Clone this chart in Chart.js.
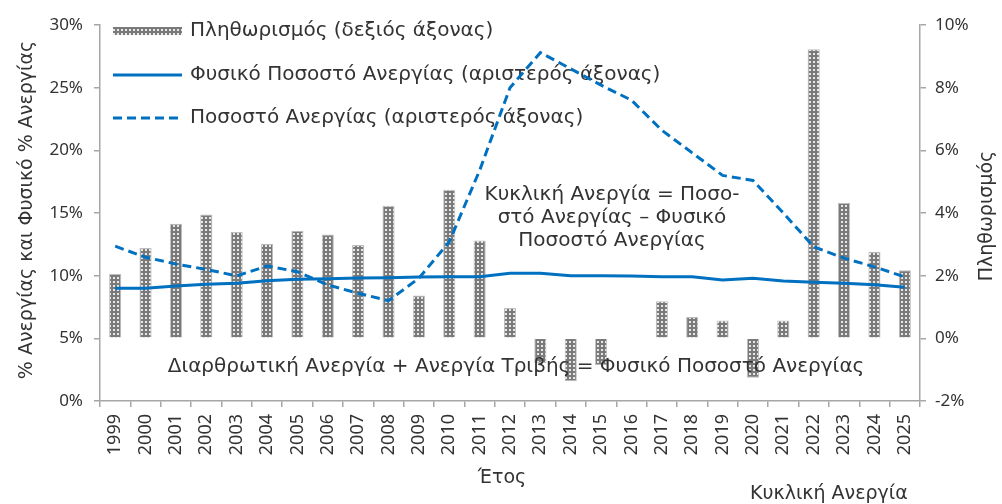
<!DOCTYPE html>
<html>
<head>
<meta charset="utf-8">
<script src="https://cdn.jsdelivr.net/npm/chart.js@4"></script>
<style>
  html, body { margin: 0; padding: 0; background: #fff; }
  #wrap { width: 1002px; height: 504px; position: relative; }
</style>
</head>
<body>
<div id="wrap"><canvas id="myChart" width="1002" height="504"></canvas></div>
<script>
// data
var years = ["1999","2000","2001","2002","2003","2004","2005","2006","2007","2008","2009","2010","2011","2012",
             "2013","2014","2015","2016","2017","2018","2019","2020","2021","2022","2023","2024","2025"];
var inflation = [2.05, 2.88, 3.66, 3.95, 3.39, 3.02, 3.43, 3.31, 2.98, 4.23, 1.37, 4.74, 3.12, 0.97,
                 -0.79, -1.37, -0.85, 0.0, 1.18, 0.68, 0.57, -1.26, 0.57, 9.23, 4.32, 2.76, 2.17];
var naturalRate = [9.0, 9.0, 9.18, 9.31, 9.39, 9.6, 9.71, 9.76, 9.82, 9.84, 9.9, 9.92, 9.92, 10.19,
                   10.19, 10.0, 10.0, 9.98, 9.92, 9.92, 9.66, 9.79, 9.58, 9.47, 9.39, 9.28, 9.07];
var unemployment = [12.35, 11.47, 10.93, 10.5, 9.98, 10.77, 10.32, 9.26, 8.6, 8.0, 9.8, 12.7, 18.4, 25.0,
                    27.8, 26.5, 25.2, 24.0, 21.6, 19.8, 18.0, 17.6, 15.0, 12.3, 11.4, 10.7, 9.9];
var leftTicks = [0, 5, 10, 15, 20, 25, 30];
var rightTicks = [-2, 0, 2, 4, 6, 8, 10];

var FONT = "'DejaVu Sans', sans-serif";
var TICKFONT = "'Noto Sans', sans-serif";
var TXT = "#333333";
var BLUE = "#0070C0";
var AXIS = "#A6A6A6";

var canvas = document.getElementById("myChart");
var ctx0 = canvas.getContext("2d");

// gray dotted fill like the original bars
var tile = document.createElement("canvas");
tile.width = 4; tile.height = 4;
var tg = tile.getContext("2d");
tg.fillStyle = "#7a7a7a";
tg.fillRect(0, 0, 4, 4);
tg.fillStyle = "#e8e8e8";
tg.fillRect(1, 1, 2, 2);
var barPattern = ctx0.createPattern(tile, "repeat");

var legendPlugin = {
    id: "legendAndNotes",
    beforeDatasetsDraw: function (chart) {
        var ctx = chart.ctx;
        ctx.save();
        ctx.font = "20px " + FONT;
        ctx.textBaseline = "middle";
        ctx.textAlign = "left";
        // bar symbol
        ctx.fillStyle = barPattern;
        ctx.fillRect(113, 27, 69, 8);
        ctx.fillStyle = TXT;
        ctx.fillText("Πληθωρισμός (δεξιός άξονας)", 190, 31);
        // solid line symbol
        ctx.strokeStyle = BLUE;
        ctx.lineWidth = 3;
        ctx.beginPath(); ctx.moveTo(113, 75); ctx.lineTo(182, 75); ctx.stroke();
        ctx.fillText("Φυσικό Ποσοστό Ανεργίας (αριστερός άξονας)", 190, 75);
        // dashed
        ctx.setLineDash([9, 5]);
        ctx.beginPath(); ctx.moveTo(113, 118); ctx.lineTo(182, 118); ctx.stroke();
        ctx.setLineDash([]);
        ctx.fillText("Ποσοστό Ανεργίας (αριστερός άξονας)", 190, 118);
        ctx.restore();
    },
    afterDraw: function (chart) {
        var ctx = chart.ctx;
        ctx.save();
        ctx.fillStyle = TXT;
        ctx.textBaseline = "middle";
        ctx.textAlign = "center";
        ctx.font = "20px " + FONT;
        ctx.fillText("Κυκλική Ανεργία = Ποσο-", 612, 195);
        ctx.fillText("στό Ανεργίας – Φυσικό", 612, 218);
        ctx.fillText("Ποσοστό Ανεργίας", 612, 241);
        ctx.fillText("Διαρθρωτική Ανεργία + Ανεργία Τριβής = Φυσικό Ποσοστό Ανεργίας", 516, 367);
        ctx.font = "19px " + FONT;
        ctx.fillText("Έτος", 502, 478);
        ctx.textAlign = "left";
        ctx.fillText("Κυκλική Ανεργία", 750, 494);
        // axis titles
        ctx.textAlign = "center";
        ctx.save();
        ctx.translate(27, 210);
        ctx.rotate(-Math.PI / 2);
        ctx.fillText("% Ανεργίας και Φυσικό % Ανεργίας", 0, 0);
        ctx.restore();
        ctx.save();
        ctx.translate(987, 216);
        ctx.rotate(-Math.PI / 2);
        ctx.fillText("Πληθωρισμός", 0, 0);
        ctx.restore();
        ctx.restore();
    }
};

window.myChart = new Chart(canvas, {
    type: "bar",
    data: {
        labels: years,
        datasets: [{
            type: "line",
            label: "Φυσικό Ποσοστό Ανεργίας (αριστερός άξονας)",
            data: naturalRate,
            yAxisID: "y",
            borderColor: BLUE,
            borderWidth: 3,
            pointRadius: 0,
            tension: 0,
            order: 1
        }, {
            type: "line",
            label: "Ποσοστό Ανεργίας (αριστερός άξονας)",
            data: unemployment,
            yAxisID: "y",
            borderColor: BLUE,
            borderWidth: 3,
            borderDash: [9, 5],
            pointRadius: 0,
            tension: 0,
            order: 2
        }, {
            label: "Πληθωρισμός (δεξιός άξονας)",
            data: inflation,
            yAxisID: "y2",
            backgroundColor: barPattern,
            borderColor: "#bdbdbd",
            borderWidth: 1,
            barPercentage: 0.4,
            categoryPercentage: 1.0,
            order: 3
        }]
    },
    options: {
        responsive: false,
        animation: false,
        layout: { padding: { top: 25, left: 0, right: 0, bottom: 0 } },
        plugins: {
            legend: { display: false },
            title: { display: false },
            tooltip: { enabled: false }
        },
        scales: {
            x: {
                afterFit: function (s) { s.height = 103; },
                grid: { drawOnChartArea: false, tickLength: 6, color: AXIS, lineWidth: 1.5 },
                border: { color: AXIS, width: 1.5 },
                ticks: {
                    color: TXT, font: { family: TICKFONT, size: 18 },
                    minRotation: 90, maxRotation: 90, padding: 7, autoSkip: false
                }
            },
            y: {
                position: "left",
                min: 0, max: 30,
                afterFit: function (s) { s.width = 100; },
                afterBuildTicks: function (s) { s.ticks = leftTicks.map(function (v) { return { value: v }; }); },
                grid: { drawOnChartArea: false, tickLength: 6, color: AXIS, lineWidth: 1.5 },
                border: { color: AXIS, width: 1.5 },
                ticks: {
                    color: TXT, font: { family: TICKFONT, size: 17 }, padding: 11,
                    callback: function (v) { return v + "%"; }
                }
            },
            y2: {
                position: "right",
                min: -2, max: 10,
                afterFit: function (s) { s.width = 82; },
                afterBuildTicks: function (s) { s.ticks = rightTicks.map(function (v) { return { value: v }; }); },
                grid: { drawOnChartArea: false, tickLength: 6, color: AXIS, lineWidth: 1.5 },
                border: { color: AXIS, width: 1.5 },
                ticks: {
                    color: TXT, font: { family: TICKFONT, size: 17 }, padding: 9,
                    callback: function (v) { return v + "%"; }
                }
            }
        }
    },
    plugins: [legendPlugin]
});
</script>
</body>
</html>
